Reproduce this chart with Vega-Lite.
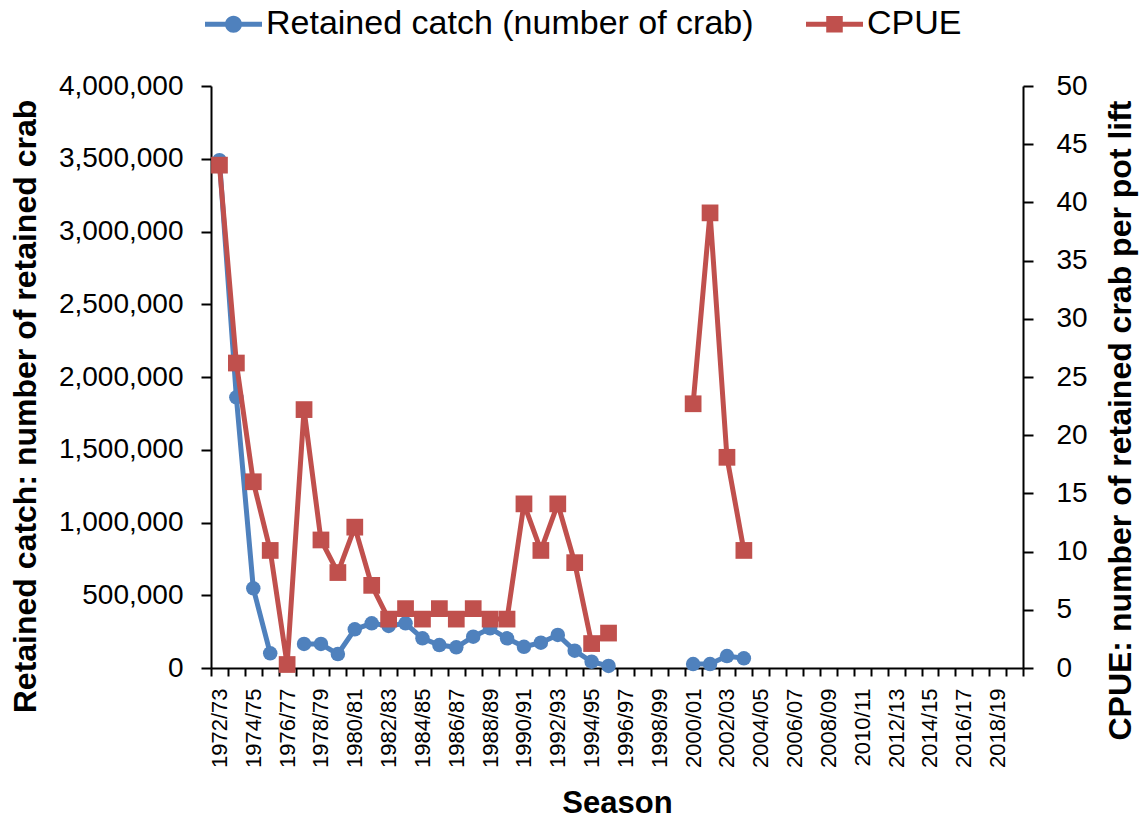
{
  "$schema": "https://vega.github.io/schema/vega-lite/v6.json",
  "autosize": {"type": "none"},
  "padding": {"left": 211, "top": 86, "right": 122, "bottom": 150},
  "width": 812,
  "height": 582,
  "background": "white",
  "config": {
    "view": {"stroke": null},
    "font": "Liberation Sans",
    "axis": {
      "grid": false,
      "domainColor": "black",
      "tickColor": "black",
      "labelColor": "black",
      "titleColor": "black",
      "domainWidth": 2,
      "tickWidth": 2,
      "labelFont": "Liberation Sans",
      "titleFont": "Liberation Sans"
    }
  },
  "data": {
    "values": [
      {"season": "1972/73", "catch": 3490000, "cpue": 43.2},
      {"season": "1973/74", "catch": 1860000, "cpue": 26.2},
      {"season": "1974/75", "catch": 548000, "cpue": 16.0},
      {"season": "1975/76", "catch": 101000, "cpue": 10.1},
      {"season": "1976/77", "catch": null, "cpue": 0.3},
      {"season": "1977/78", "catch": 165000, "cpue": 22.2},
      {"season": "1978/79", "catch": 165000, "cpue": 11.0},
      {"season": "1979/80", "catch": 96000, "cpue": 8.2},
      {"season": "1980/81", "catch": 266000, "cpue": 12.1},
      {"season": "1981/82", "catch": 307000, "cpue": 7.1},
      {"season": "1982/83", "catch": 289000, "cpue": 4.2},
      {"season": "1983/84", "catch": 307000, "cpue": 5.1},
      {"season": "1984/85", "catch": 204000, "cpue": 4.2},
      {"season": "1985/86", "catch": 158000, "cpue": 5.1},
      {"season": "1986/87", "catch": 142000, "cpue": 4.2},
      {"season": "1987/88", "catch": 215000, "cpue": 5.1},
      {"season": "1988/89", "catch": 273000, "cpue": 4.2},
      {"season": "1989/90", "catch": 204000, "cpue": 4.2},
      {"season": "1990/91", "catch": 146000, "cpue": 14.1},
      {"season": "1991/92", "catch": 174000, "cpue": 10.1},
      {"season": "1992/93", "catch": 227000, "cpue": 14.1},
      {"season": "1993/94", "catch": 119000, "cpue": 9.05},
      {"season": "1994/95", "catch": 43000, "cpue": 2.1},
      {"season": "1995/96", "catch": 14000, "cpue": 3.0},
      {"season": "1996/97", "catch": null, "cpue": null},
      {"season": "1997/98", "catch": null, "cpue": null},
      {"season": "1998/99", "catch": null, "cpue": null},
      {"season": "1999/00", "catch": null, "cpue": null},
      {"season": "2000/01", "catch": 27000, "cpue": 22.7},
      {"season": "2001/02", "catch": 27000, "cpue": 39.1},
      {"season": "2002/03", "catch": 82000, "cpue": 18.1},
      {"season": "2003/04", "catch": 67000, "cpue": 10.1},
      {"season": "2004/05", "catch": null, "cpue": null},
      {"season": "2005/06", "catch": null, "cpue": null},
      {"season": "2006/07", "catch": null, "cpue": null},
      {"season": "2007/08", "catch": null, "cpue": null},
      {"season": "2008/09", "catch": null, "cpue": null},
      {"season": "2009/10", "catch": null, "cpue": null},
      {"season": "2010/11", "catch": null, "cpue": null},
      {"season": "2011/12", "catch": null, "cpue": null},
      {"season": "2012/13", "catch": null, "cpue": null},
      {"season": "2013/14", "catch": null, "cpue": null},
      {"season": "2014/15", "catch": null, "cpue": null},
      {"season": "2015/16", "catch": null, "cpue": null},
      {"season": "2016/17", "catch": null, "cpue": null},
      {"season": "2017/18", "catch": null, "cpue": null},
      {"season": "2018/19", "catch": null, "cpue": null},
      {"season": "2019/20", "catch": null, "cpue": null}
    ]
  },
  "encoding": {
    "x": {
      "field": "season",
      "type": "nominal",
      "sort": null,
      "scale": {
        "domain": ["1972/73","1973/74","1974/75","1975/76","1976/77","1977/78","1978/79","1979/80","1980/81","1981/82","1982/83","1983/84","1984/85","1985/86","1986/87","1987/88","1988/89","1989/90","1990/91","1991/92","1992/93","1993/94","1994/95","1995/96","1996/97","1997/98","1998/99","1999/00","2000/01","2001/02","2002/03","2003/04","2004/05","2005/06","2006/07","2007/08","2008/09","2009/10","2010/11","2011/12","2012/13","2013/14","2014/15","2015/16","2016/17","2017/18","2018/19","2019/20"],
        "paddingInner": 0,
        "paddingOuter": 0
      },
      "axis": {
        "title": "Season",
        "titleFontSize": 31,
        "titleFontWeight": "bold",
        "titleY": 144,
        "titleBaseline": "alphabetic",
        "labelAngle": -90,
        "labelFontSize": 22,
        "labelPadding": 12,
        "tickSize": 8,
        "tickBand": "extent",
        "labelOverlap": false,
        "labelBound": false,
        "labelExpr": "parseInt(substring(datum.label,0,4)) % 2 == 0 ? datum.label : ''"
      }
    }
  },
  "layer": [
    {
      "encoding": {
        "y": {
          "field": "catch",
          "type": "quantitative",
          "scale": {"domain": [0, 4000000], "nice": false},
          "axis": {
            "orient": "left",
            "title": "Retained catch: number of retained crab",
            "values": [0, 500000, 1000000, 1500000, 2000000, 2500000, 3000000, 3500000, 4000000],
            "format": ",d",
            "labelFontSize": 28,
            "labelPadding": 18,
            "tickSize": 10,
            "titleFontSize": 32,
            "titleFontWeight": "bold",
            "titleAngle": 270,
            "titleX": -186,
            "titleY": 320,
            "titleBaseline": "middle",
            "titleAlign": "center"
          }
        },
        "color": {
          "datum": "Retained catch (number of crab)",
          "type": "nominal",
          "scale": {"domain": ["Retained catch (number of crab)", "CPUE"], "range": ["#4F81BD", "#C0504D"]},
          "legend": {
            "orient": "none",
            "legendX": -6,
            "legendY": -90.5,
            "direction": "horizontal",
            "title": null,
            "padding": 0,
            "symbolSize": 3249,
            "symbolStrokeWidth": 0,
            "labelFont": "Liberation Sans",
            "labelFontSize": 34,
            "labelColor": "black",
            "labelOffset": 4,
            "labelLimit": 1000,
            "columnPadding": 52,
            "encode": {
              "symbols": {
                "update": {
                  "shape": {"signal": "datum.value === 'CPUE' ? 'M-1,-0.088H1V0.088H-1ZM-0.29,-0.29H0.29V0.29H-0.29Z' : 'M-1,-0.088H1V0.088H-1ZM0.3,0A0.3,0.3,0,1,1,-0.3,0A0.3,0.3,0,1,1,0.3,0Z'"},
                  "fill": {"signal": "datum.value === 'CPUE' ? '#C0504D' : '#4F81BD'"},
                  "fillOpacity": {"value": 1},
                  "opacity": {"value": 1},
                  "stroke": {"value": "transparent"}
                }
              }
            }
          }
        }
      },
      "layer": [
        {"mark": {"type": "line", "strokeWidth": 5, "invalid": "break-paths-show-domains"}},
        {"mark": {"type": "point", "filled": true, "shape": "circle", "size": 210, "opacity": 1}}
      ]
    },
    {
      "encoding": {
        "y": {
          "field": "cpue",
          "type": "quantitative",
          "scale": {"domain": [0, 50], "nice": false},
          "axis": {
            "orient": "right",
            "title": "CPUE: number of retained crab per pot lift",
            "values": [0, 5, 10, 15, 20, 25, 30, 35, 40, 45, 50],
            "labelFontSize": 28,
            "labelPadding": 23,
            "tickSize": 10,
            "titleFontSize": 32,
            "titleFontWeight": "bold",
            "titleAngle": 270,
            "titleX": 97,
            "titleY": 334,
            "titleBaseline": "middle",
            "titleAlign": "center"
          }
        },
        "color": {"datum": "CPUE", "type": "nominal"}
      },
      "layer": [
        {"mark": {"type": "line", "strokeWidth": 5, "invalid": "break-paths-show-domains"}},
        {"mark": {"type": "point", "filled": true, "shape": "square", "size": 280, "opacity": 1}}
      ]
    }
  ],
  "resolve": {"scale": {"y": "independent"}}
}
